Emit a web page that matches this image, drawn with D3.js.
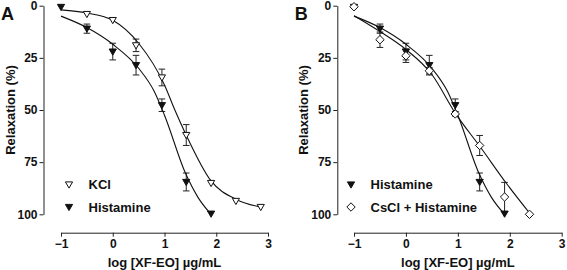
<!DOCTYPE html>
<html>
<head>
<meta charset="utf-8">
<script src="https://cdn.jsdelivr.net/npm/d3@7"></script>
<style>
  body { margin: 0; background: #fff; }
  svg text { font-family: "Liberation Sans", Arial, sans-serif; font-weight: bold; fill: #111; }
</style>
</head>
<body>
<div id="chart"></div>
<script>
// tick values
const xTicks = [-1, 0, 1, 2, 3];
const yTicks = [0, 25, 50, 75, 100];

// KCl (panel A, open triangles)
const kclDose = [-0.5, 0, 0.45, 0.95, 1.42, 1.9, 2.38, 2.86];
const kclMean = [4, 6.9, 19, 34.4, 62, 85, 93.6, 96.5];
const kclSem  = [0, 0, 3, 4, 5, 0, 0, 0];

// Histamine (both panels, filled triangles)
const histDose = [-1, -0.5, 0, 0.45, 0.95, 1.42, 1.9];
const histMean = [0.6, 11, 22, 28.5, 47.7, 84.5, 99.7];
const histSem  = [0, 2.2, 4, 4.7, 3, 4.3, 0];

// CsCl + Histamine (panel B, open diamonds)
const csclDose = [-1, -0.5, 0, 0.45, 0.95, 1.42, 1.9, 2.38];
const csclMean = [0.5, 16.3, 24, 31.2, 51.9, 67, 91.7, 100];
const csclSem  = [0, 3.7, 3.2, 1.5, 1, 4.8, 7, 0];

// fitted curves
const kclFitX  = [-1, -0.5, 0, 0.5, 1, 1.2, 1.4, 1.9, 2.4, 2.85];
const kclFitY  = [2, 3.5, 7, 18, 38, 50, 61, 84, 93, 96.5];
const histFitX = [-1, -0.5, 0, 0.5, 0.8, 1.0, 1.4, 1.65, 1.9];
const histFitY = [5, 10.5, 18.5, 30, 41, 52.5, 80, 92, 100];
const csclFitX = [-1, -0.5, 0, 0.5, 0.95, 1.44, 1.93, 2.4];
const csclFitY = [4.8, 12.4, 21, 33, 51.5, 68, 85, 100];

const width = 567, height = 270;
const svg = d3.select("#chart").append("svg")
    .attr("width", width)
    .attr("height", height);

const y = d3.scaleLinear().domain([0, 100]).range([5.7, 214.3]);

const triDown = "M-3.6,-2.6L3.6,-2.6L0,3.6Z";
const diamond = "M0,-4.2L4.2,0L0,4.2L-4.2,0Z";

const series = {
    kcl:  { dose: kclDose, mean: kclMean, sem: kclSem, fx: kclFitX, fy: kclFitY, shape: triDown, fill: "#fff", name: "KCl" },
    hist: { dose: histDose, mean: histMean, sem: histSem, fx: histFitX, fy: histFitY, shape: triDown, fill: "#111", name: "Histamine" },
    cscl: { dose: csclDose, mean: csclMean, sem: csclSem, fx: csclFitX, fy: csclFitY, shape: diamond, fill: "#fff", name: "CsCl + Histamine" }
};

function drawPanel(x0, x1, axisX, letter, list, legX) {
    const x = d3.scaleLinear().domain([-1, 3]).range([x0, x1]);
    const g = svg.append("g");

    // y axis
    const ya = g.append("g")
        .attr("transform", `translate(${axisX},0)`)
        .call(d3.axisLeft(y).tickValues(yTicks).tickSize(4).tickPadding(2).tickSizeOuter(0));
    ya.select(".domain").attr("stroke", "#222");
    ya.selectAll(".tick line").attr("stroke", "#222");
    ya.selectAll("text").style("font-size", "12px");

    // x axis
    const xa = g.append("g")
        .attr("transform", "translate(0,232.7)")
        .call(d3.axisBottom(x).tickValues(xTicks).tickSize(4).tickPadding(3).tickSizeOuter(0).tickFormat(d3.format("d")));
    xa.select(".domain").attr("stroke", "#222");
    xa.selectAll(".tick line").attr("stroke", "#222");
    xa.selectAll("text").style("font-size", "12px");

    // titles
    g.append("text")
        .attr("transform", `translate(${axisX - 29},110) rotate(-90)`)
        .attr("text-anchor", "middle")
        .style("font-size", "13px")
        .text("Relaxation (%)");
    g.append("text")
        .attr("x", (x0 + x1) / 2)
        .attr("y", 266.5)
        .attr("text-anchor", "middle")
        .style("font-size", "13px")
        .text("log [XF-EO] µg/mL");
    g.append("text")
        .attr("x", axisX - 42.5)
        .attr("y", 19.5)
        .style("font-size", "18px")
        .text(letter);

    const line = d3.line()
        .x(d => x(d[0]))
        .y(d => y(d[1]))
        .curve(d3.curveMonotoneX);

    list.forEach(s => {
        const pts = s.dose.map((d, i) => ({ d: d, m: s.mean[i], e: s.sem[i] }));
        const bars = g.append("g").attr("stroke", "#222").attr("stroke-width", 1).attr("fill", "none");
        pts.filter(p => p.e > 0).forEach(p => {
            const cx = x(p.d);
            bars.append("line").attr("x1", cx).attr("x2", cx).attr("y1", y(p.m - p.e)).attr("y2", y(p.m + p.e));
            bars.append("line").attr("x1", cx - 3.3).attr("x2", cx + 3.3).attr("y1", y(p.m - p.e)).attr("y2", y(p.m - p.e));
            bars.append("line").attr("x1", cx - 3.3).attr("x2", cx + 3.3).attr("y1", y(p.m + p.e)).attr("y2", y(p.m + p.e));
        });
        g.append("path")
            .datum(d3.zip(s.fx, s.fy))
            .attr("d", line)
            .attr("fill", "none")
            .attr("stroke", "#111")
            .attr("stroke-width", 1.1);
    });

    list.forEach(s => {
        g.append("g").selectAll("path")
            .data(s.dose.map((d, i) => [d, s.mean[i]]))
            .enter().append("path")
            .attr("transform", d => `translate(${x(d[0])},${y(d[1])})`)
            .attr("d", s.shape)
            .attr("fill", s.fill)
            .attr("stroke", "#111")
            .attr("stroke-width", 1);
    });

    // legend
    list.forEach((s, i) => {
        const ly = 184.5 + i * 22.5;
        g.append("path")
            .attr("transform", `translate(${legX},${ly})`)
            .attr("d", s.shape)
            .attr("fill", s.fill)
            .attr("stroke", "#111");
        g.append("text")
            .attr("x", legX + 19.5)
            .attr("y", ly + 4.7)
            .style("font-size", "13px")
            .text(s.name);
    });
}

drawPanel(61, 268, 43.5, "A", [series.kcl, series.hist], 69);
drawPanel(354, 561.7, 337.3, "B", [series.hist, series.cscl], 351);
</script>
</body>
</html>
